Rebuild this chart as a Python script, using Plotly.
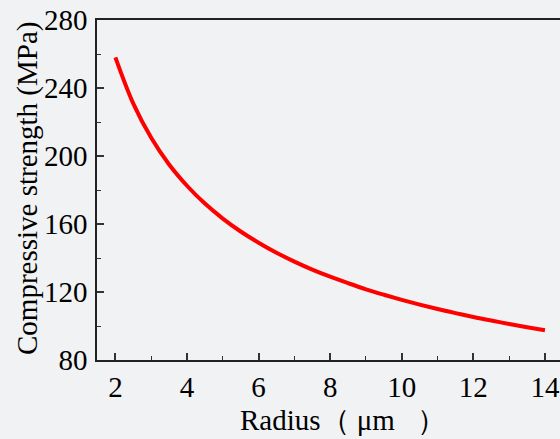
import plotly.graph_objects as go

radius = [2, 2.5, 3, 3.5, 4, 4.5, 5, 5.5, 6, 6.5, 7, 7.5, 8, 8.5, 9, 9.5,
          10, 10.5, 11, 11.5, 12, 12.5, 13, 13.5, 14]
strength = [258.0, 230.8, 210.7, 195.0, 182.5, 172.0, 163.2, 155.6, 149.0, 143.1,
            137.9, 133.2, 129.0, 125.2, 121.6, 118.4, 115.4, 112.6, 110.0, 107.6,
            105.3, 103.2, 101.2, 99.3, 97.5]
x_ticks = [2, 4, 6, 8, 10, 12, 14]
y_ticks = [80, 120, 160, 200, 240, 280]

BG = "#f1f2f4"
FONT = "Liberation Serif, Times New Roman, serif"

fig = go.Figure()
fig.add_trace(go.Scatter(
    x=radius, y=strength, mode="lines",
    line=dict(color="#ff0000", width=4, shape="spline"),
    showlegend=False, hoverinfo="skip",
))

axis_common = dict(
    showline=True, linecolor="#222222", linewidth=1.6,
    ticks="inside", ticklen=7, tickwidth=1.5, tickcolor="#333333",
    showgrid=False, zeroline=False,
    tickfont=dict(family=FONT, size=29, color="#000000"),
)

fig.update_layout(
    width=560, height=439,
    margin=dict(l=97, r=0, t=20, b=79),
    paper_bgcolor=BG, plot_bgcolor=BG,
    xaxis=dict(
        range=[1.486, 14.42], tickvals=x_ticks, mirror=True,
        minor=dict(ticks="inside", ticklen=4, dtick=1, tick0=1, tickcolor="#333333", tickwidth=1.2),
        ticklabelstandoff=0,
        **axis_common,
    ),
    yaxis=dict(
        range=[80, 280], tickvals=y_ticks,
        minor=dict(ticks="inside", ticklen=4, dtick=20, tick0=80, tickcolor="#333333", tickwidth=1.2),
        ticklabelstandoff=2,
        **axis_common,
    ),
    annotations=[
        dict(text="Radius（ μm   ）", xref="paper", yref="paper",
             x=0.3045, y=-0.176, xanchor="left", yanchor="middle",
             showarrow=False, font=dict(family=FONT, size=29, color="#000000")),
        dict(text="Compressive strength (MPa)", xref="paper", yref="paper",
             x=-0.149, y=0.503, xanchor="center", yanchor="middle", textangle=-90,
             showarrow=False, font=dict(family=FONT, size=29, color="#000000")),
    ],
)

fig.write_html("out.html")
